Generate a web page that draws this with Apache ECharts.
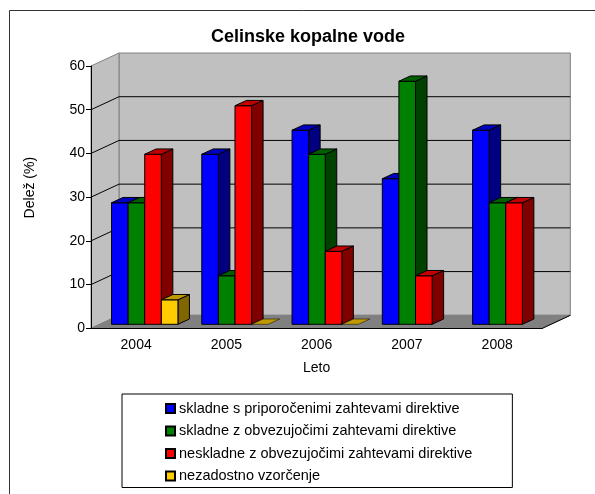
<!DOCTYPE html>
<html>
<head>
<meta charset="utf-8">
<title>Celinske kopalne vode</title>
<style>
	html, body { margin: 0; padding: 0; background: #fff; }
	#chart { width: 595px; height: 494px; }
</style>
<script src="https://cdn.jsdelivr.net/npm/echarts@6/dist/echarts.min.js"></script>
</head>
<body>
<div id="chart"></div>
<script type="text/javascript">
	var years = ['2004', '2005', '2006', '2007', '2008'];
	var priporocene = [27.8, 38.9, 44.4, 33.3, 44.4];
	var obvezujoce = [27.8, 11.1, 38.9, 55.6, 27.8];
	var neskladne = [38.9, 50, 16.7, 11.1, 27.8];
	var vzorcenje = [5.6, 0, 0, null, null];
	var yTicks = [0, 10, 20, 30, 40, 50, 60];

	var font = '"Liberation Sans", Arial, sans-serif';
	// depth of the box and where the bars stand inside it, in pixels
	var DEPTH = [28, -13];
	var BAR_SHIFT = [8.6, -4];
	var BAR_DEPTH = [11.5, -5.3];
	var BAR_W = 16.6;

	// zidovi, tla in mreza
	function renderBox(params, api) {
		var band = api.size([1, 0])[0];
		var x0 = api.coord([0, 0])[0] - band / 2;
		var x1 = api.coord([years.length - 1, 0])[0] + band / 2;
		var yLow = api.coord([0, 0])[1];
		var yTop = api.coord([0, 60])[1];
		var dx = DEPTH[0], dy = DEPTH[1];
		var children = [
			{ type: 'polygon', shape: { points: [[x0 + dx, yTop + dy], [x1 + dx, yTop + dy], [x1 + dx, yLow + dy], [x0 + dx, yLow + dy]] },
				style: { fill: '#c0c0c0', stroke: '#808080', lineWidth: 1 } },
			{ type: 'polygon', shape: { points: [[x0, yTop], [x0 + dx, yTop + dy], [x0 + dx, yLow + dy], [x0, yLow]] },
				style: { fill: '#c0c0c0', stroke: '#808080', lineWidth: 1 } },
			{ type: 'polygon', shape: { points: [[x0, yLow], [x0 + dx, yLow + dy], [x1 + dx, yLow + dy], [x1, yLow]] },
				style: { fill: '#808080', stroke: '#808080', lineWidth: 1 } }
		];
		yTicks.forEach(function (t) {
			if (t === 0 || t === 60) {
				return;
			}
			var y = api.coord([0, t])[1];
			children.push({ type: 'polyline', shape: { points: [[x0, y], [x0 + dx, y + dy], [x1 + dx, y + dy]] },
				style: { fill: null, stroke: '#000', lineWidth: 1 } });
		});
		// desni rob tal
		children.push({ type: 'line', shape: { x1: x1, y1: yLow, x2: x1 + dx, y2: yLow + dy },
			style: { stroke: '#000', lineWidth: 1 } });
		return { type: 'group', children: children };
	}

	function makeBars(slot, front, side, top) {
		return function (params, api) {
			var val = api.value(1);
			if (isNaN(val)) {
				return null;
			}
			var base = api.coord([api.value(0), 0]);
			var head = api.coord([api.value(0), val]);
			var left = base[0] + BAR_SHIFT[0] + (slot - 2) * BAR_W;
			var right = left + BAR_W;
			var yb = base[1] + BAR_SHIFT[1];
			var yt = head[1] + BAR_SHIFT[1];
			var bx = BAR_DEPTH[0], by = BAR_DEPTH[1];
			var children = [];
			if (val > 0) {
				children.push({ type: 'polygon', shape: { points: [[right, yt], [right + bx, yt + by], [right + bx, yb + by], [right, yb]] },
					style: { fill: side, stroke: '#000', lineWidth: 1 } });
				children.push({ type: 'polygon', shape: { points: [[left, yt], [right, yt], [right, yb], [left, yb]] },
					style: { fill: front, stroke: '#000', lineWidth: 1 } });
			}
			children.push({ type: 'polygon', shape: { points: [[left, yt], [left + bx, yt + by], [right + bx, yt + by], [right, yt]] },
				style: { fill: top, stroke: '#000', lineWidth: val > 0 ? 1 : 0.5 } });
			return { type: 'group', children: children };
		};
	}

	function barSeries(name, values, slot, front, side, top) {
		return {
			name: name,
			type: 'custom',
			renderItem: makeBars(slot, front, side, top),
			encode: { x: 0, y: 1 },
			itemStyle: { color: front, borderColor: '#000', borderWidth: 1 },
			data: values.map(function (v, i) { return [i, v]; })
		};
	}

	var option = {
		animation: false,
		textStyle: { fontFamily: font, color: '#000' },
		title: {
			text: 'Celinske kopalne vode',
			left: 303,
			top: 23,
			textAlign: 'center',
			textStyle: { fontFamily: font, fontSize: 18, fontWeight: 'bold', color: '#000' }
		},
		graphic: [
			{ type: 'polyline', silent: true, shape: { points: [[9.5, 494], [9.5, 10.5], [595, 10.5]] },
				style: { fill: null, stroke: '#333', lineWidth: 1 } }
		],
		legend: {
			orient: 'vertical',
			left: 122,
			top: 394,
			height: 140,
			padding: [7, 40, 4, 43],
			itemGap: 7.5,
			itemWidth: 9,
			itemHeight: 9,
			icon: 'rect',
			backgroundColor: '#fff',
			borderColor: '#000',
			borderWidth: 1,
			textStyle: { fontFamily: font, fontSize: 14.5, color: '#000', padding: [0, 0, 0, -1] },
			data: ['skladne s priporočenimi zahtevami direktive', 'skladne z obvezujočimi zahtevami direktive', 'neskladne z obvezujočimi zahtevami direktive', 'nezadostno vzorčenje']
		},
		grid: { left: 91, top: 66, width: 451.3, height: 262.3, containLabel: false },
		xAxis: {
			type: 'category',
			data: years,
			z: 10,
			name: 'Leto',
			nameLocation: 'middle',
			nameGap: 33,
			nameTextStyle: { fontFamily: font, fontSize: 14, color: '#000' },
			axisLine: { lineStyle: { color: '#000', width: 1 } },
			axisTick: { length: 4, lineStyle: { color: '#000' } },
			axisLabel: { fontFamily: font, fontSize: 14, color: '#000', margin: 10 }
		},
		yAxis: {
			type: 'value',
			min: 0,
			max: 60,
			interval: 10,
			z: 10,
			name: 'Delež (%)',
			nameLocation: 'middle',
			nameGap: 54,
			nameTextStyle: { fontFamily: font, fontSize: 14, color: '#000', padding: [0, 0, 0, 19] },
			splitLine: { show: false },
			axisLine: { show: true, lineStyle: { color: '#000', width: 1 } },
			axisTick: { show: true, length: 5, lineStyle: { color: '#000' } },
			axisLabel: { fontFamily: font, fontSize: 14, color: '#000', margin: 6 }
		},
		series: [
			{ type: 'custom', silent: true, renderItem: renderBox, data: [[0, 0]], encode: { x: 0, y: 1 } },
			barSeries('skladne s priporočenimi zahtevami direktive', priporocene, 0, '#0000ff', '#000080', '#0000c0'),
			barSeries('skladne z obvezujočimi zahtevami direktive', obvezujoce, 1, '#008000', '#004000', '#006000'),
			barSeries('neskladne z obvezujočimi zahtevami direktive', neskladne, 2, '#ff0000', '#800000', '#c00000'),
			barSeries('nezadostno vzorčenje', vzorcenje, 3, '#ffcc00', '#806600', '#c09900')
		]
	};

	var myChart = echarts.init(document.getElementById('chart'), null, { renderer: 'canvas' });
	myChart.setOption(option);
</script>
</body>
</html>
